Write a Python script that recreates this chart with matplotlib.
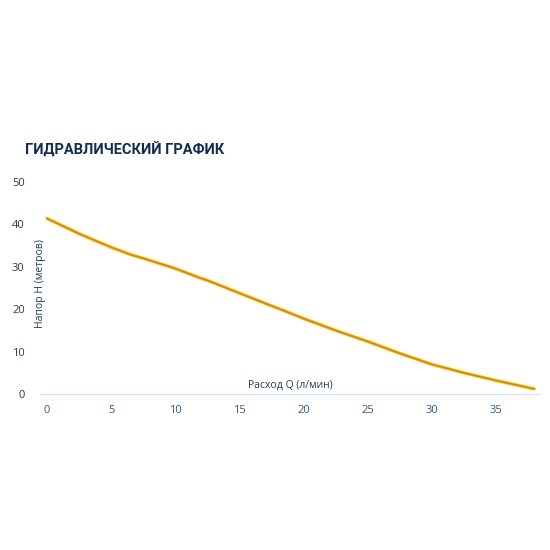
import matplotlib
matplotlib.use("Agg")
import matplotlib.pyplot as plt

flow = [0, 2.5, 5, 6.5, 7.5, 10, 11.9, 12.5, 15, 17.5, 18.2, 20, 22.5, 25, 27.5, 30, 32.5, 35, 38]
head = [41.4, 37.8, 34.6, 32.9, 32.0, 29.6, 27.4, 26.8, 23.8, 20.8, 20.0, 17.8, 15.0, 12.4, 9.6, 7.0, 5.0, 3.2, 1.2]
x_ticks = [0, 5, 10, 15, 20, 25, 30, 35]
y_ticks = [0, 10, 20, 30, 40, 50]
title = "ГИДРАВЛИЧЕСКИЙ ГРАФИК"
x_label = "Расход Q (л/мин)"
y_label = "Напор H (метров)"

plt.rcParams['font.family'] = ['Open Sans', 'DejaVu Sans']

fig = plt.figure(figsize=(5.5, 5.5), dpi=100)
ax = fig.add_axes([40/550, 1-394/550, 500/550, (394-182)/550])
ax.plot(flow, head, color='#f7c81a', lw=2.4, solid_capstyle='round', solid_joinstyle='round', zorder=2)
ax.plot(flow, head, color='#e08800', lw=1.3, solid_capstyle='round', solid_joinstyle='round', zorder=3)

ax.set_xlim(-0.55, 38.45)
ax.set_ylim(0, 50)
ax.set_xticks(x_ticks)
ax.set_yticks(y_ticks)
for s in ['top', 'right', 'left']:
    ax.spines[s].set_visible(False)
ax.spines['bottom'].set_color('#dbe6ef')
ax.spines['bottom'].set_linewidth(1.0)
ax.tick_params(axis='x', length=0, pad=8, labelsize=8, labelcolor='#2a5a8a')
ax.tick_params(axis='y', length=0, pad=11, labelsize=8, labelcolor='#2b3a4a')

fig.text(290/550, 1-385/550, x_label, ha='center', va='center',
         fontsize=7.5, color='#1f3c5c')
fig.text(40/550, 1-284/550, y_label, rotation=90, ha='center', va='center',
         fontsize=7.5, color='#1f3c5c')
fig.text(25/550, 1-150/550, title, ha='left', va='center', fontsize=10.5,
         fontweight='bold', color='#0f2d55', family=['Roboto', 'DejaVu Sans'])

fig.savefig('out.png', dpi=100, facecolor='white')
